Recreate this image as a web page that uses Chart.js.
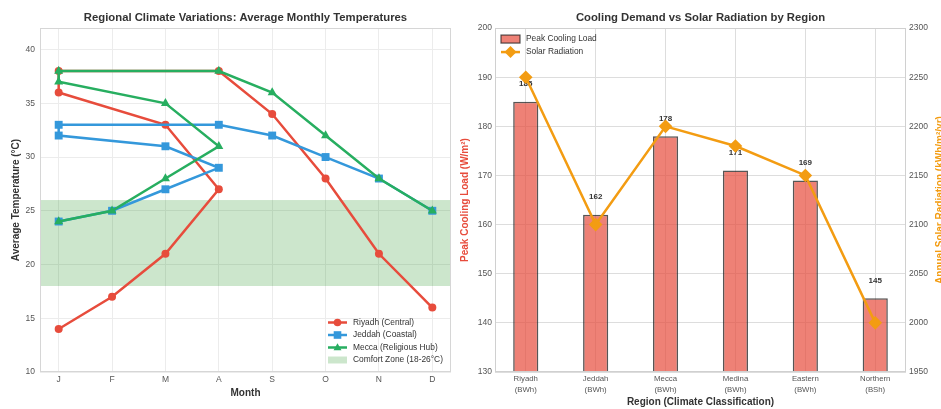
<!DOCTYPE html>
<html><head><meta charset="utf-8">
<script src="https://cdn.jsdelivr.net/npm/chart.js@4.4.0/dist/chart.umd.min.js"></script>
<style>
html,body{margin:0;padding:0;background:#fff;width:941px;height:409px;overflow:hidden;}
canvas{position:absolute;top:0;}
#c1{left:0;}
#c2{left:455px;}
</style></head><body>
<canvas id="c1" width="470" height="409"></canvas>
<canvas id="c2" width="486" height="409"></canvas>
<script>
// ---------- data ----------
const monthCats = ['J','F','M','A','S','O','N','D'];
const monthLabels = ['J','F','M','A','M','J','J','A','S','O','N','D'];
const riyadhTemps = [14,17,21,27,33,36,38,38,34,28,21,16];
const jeddahTemps = [24,25,27,29,31,32,33,33,32,30,28,25];
const meccaTemps  = [24,25,28,31,35,37,38,38,36,32,28,25];
const comfortZone = [18,26];
const tempTicks = [10,15,20,25,30,35,40];

const regionNames = ['Riyadh','Jeddah','Mecca','Medina','Eastern','Northern'];
const climateClasses = ['(BWh)','(BWh)','(BWh)','(BWh)','(BWh)','(BSh)'];
const coolingLoad = [185,162,178,171,169,145];
const solarRadiation = [2250,2100,2200,2180,2150,2000];
const loadTicks = [130,140,150,160,170,180,190,200];
const solarTicks = [1950,2000,2050,2100,2150,2200,2250,2300];

// ---------- style ----------
const FONT = "'Liberation Sans', Arial, sans-serif";
Chart.defaults.font.family = FONT;
Chart.defaults.animation = false;
const TICK = '#555555';
const DARK = '#333333';
const RED = '#e74c3c', BLUE = '#3498db', GREEN = '#27ae60', ORANGE = '#f39c12';
const BAND = 'rgba(0,128,0,0.2)';

function marker(ctx, style, x, y, r, color){
  ctx.save();
  ctx.fillStyle = color; ctx.beginPath();
  if (style === 'circle') ctx.arc(x, y, r, 0, Math.PI*2);
  else if (style === 'rect') ctx.rect(x-r, y-r, 2*r, 2*r);
  else if (style === 'triangle') { ctx.moveTo(x, y-r*1.2); ctx.lineTo(x+r*1.1, y+r*0.75); ctx.lineTo(x-r*1.1, y+r*0.75); ctx.closePath(); }
  else if (style === 'rectRot') { ctx.moveTo(x, y-r); ctx.lineTo(x+r, y); ctx.lineTo(x, y+r); ctx.lineTo(x-r, y); ctx.closePath(); }
  ctx.fill(); ctx.restore();
}
function frame(chart, color){
  const a = chart.chartArea, ctx = chart.ctx;
  ctx.save(); ctx.strokeStyle = color; ctx.lineWidth = 1;
  ctx.strokeRect(Math.round(a.left)+0.5, Math.round(a.top)+0.5, Math.round(a.right-a.left)-1, Math.round(a.bottom-a.top)-1);
  ctx.restore();
}
const toPoints = vals => vals.map((v,i) => ({x: monthCats.indexOf(monthLabels[i]), y: v}));

// ---------- left chart ----------
const leftPlugin = {
  id: 'leftExtras',
  beforeDatasetsDraw(chart){
    const {ctx, chartArea:a, scales:{y}} = chart;
    const yTop = y.getPixelForValue(comfortZone[1]), yBot = y.getPixelForValue(comfortZone[0]);
    ctx.save(); ctx.fillStyle = BAND; ctx.fillRect(a.left, yTop, a.right-a.left, yBot-yTop); ctx.restore();
  },
  afterDraw(chart){
    const {ctx, chartArea:a} = chart;
    frame(chart, '#d6d6d6');
    const x0 = a.right - 123, y0 = a.bottom - 49.5, step = 12.5;
    ctx.save();
    ctx.font = '8.4px ' + FONT; ctx.textBaseline = 'middle'; ctx.fillStyle = DARK;
    chart.data.datasets.forEach((ds, i) => {
      const yy = y0 + i*step;
      ctx.strokeStyle = ds.borderColor; ctx.lineWidth = 2.5;
      ctx.beginPath(); ctx.moveTo(x0, yy); ctx.lineTo(x0+19, yy); ctx.stroke();
      marker(ctx, ds.pointStyle, x0+9.5, yy, ds.pointStyle==='circle'?3.8:(ds.pointStyle==='rect'?3.8:3.6), ds.borderColor);
      ctx.fillStyle = DARK; ctx.fillText(ds.label, x0+25, yy);
    });
    const yy = y0 + 3*step;
    ctx.fillStyle = BAND; ctx.fillRect(x0, yy-3.5, 19, 7);
    ctx.fillStyle = DARK;
    ctx.fillText('Comfort Zone (' + comfortZone[0] + '-' + comfortZone[1] + '°C)', x0+25, yy);
    ctx.restore();
  }
};

new Chart(document.getElementById('c1'), {
  type: 'line',
  data: {
    datasets: [
      {label:'Riyadh (Central)', data: toPoints(riyadhTemps), borderColor: RED, backgroundColor: RED,
       pointStyle:'circle', pointRadius:4, pointBorderWidth:0, borderWidth:2.5, order:3},
      {label:'Jeddah (Coastal)', data: toPoints(jeddahTemps), borderColor: BLUE, backgroundColor: BLUE,
       pointStyle:'rect', pointRadius:5.6, pointBorderWidth:0, borderWidth:2.5, order:2},
      {label:'Mecca (Religious Hub)', data: toPoints(meccaTemps), borderColor: GREEN, backgroundColor: GREEN,
       pointStyle:'triangle', pointRadius:5.2, pointBorderWidth:0, borderWidth:2.5, order:1}
    ]
  },
  options: {
    responsive: false,
    layout: {padding: {left:0, right:19, top:0, bottom:0}},
    plugins: {
      legend: {display:false}, tooltip: {enabled:false},
      title: {display:true, text:'Regional Climate Variations: Average Monthly Temperatures', fullSize:false,
        color: DARK, font:{size:11.3, weight:'bold'}, padding:{top:11, bottom:3.5}}
    },
    scales: {
      x: {type:'linear', min:-0.35, max:7.35,
        afterBuildTicks: s => { s.ticks = monthCats.map((_, i) => ({value:i})); },
        afterFit: s => { s.height = 37; },
        ticks: {autoSkip:false, maxRotation:0, color:TICK, font:{size:8.5}, padding:3,
          callback: v => monthCats[v]},
        grid: {color:'#ececec', lineWidth:1, drawTicks:false},
        border: {display:false},
        title: {display:true, text:'Month', color:DARK, font:{size:10, weight:'bold'}, padding:{top:0, bottom:10}}
      },
      y: {type:'linear', min:10, max:42,
        afterBuildTicks: s => { s.ticks = tempTicks.map(v => ({value:v})); },
        afterFit: s => { s.width = 40; },
        ticks: {color:TICK, font:{size:8.5}, padding:5, callback: v => String(v)},
        grid: {color:'#ececec', lineWidth:1, drawTicks:false},
        border: {display:false},
        title: {display:true, text:'Average Temperature (°C)', color:DARK, font:{size:10, weight:'bold'}, padding:{top:10, bottom:0}}
      }
    }
  },
  plugins: [leftPlugin]
});

// ---------- right chart ----------
const rightPlugin = {
  id: 'rightExtras',
  afterDatasetDraw(chart, args){
    if (args.index !== 0) return;
    const {ctx} = chart, meta = args.meta;
    ctx.save();
    ctx.font = 'bold 8px ' + FONT; ctx.fillStyle = DARK; ctx.textAlign = 'center'; ctx.textBaseline = 'middle';
    meta.data.forEach((bar, i) => {
      ctx.fillText(String(coolingLoad[i]), bar.x, bar.y - 17.5);
    });
    ctx.restore();
  },
  afterDraw(chart){
    const {ctx, chartArea:a} = chart;
    frame(chart, '#d0d0d0');
    // legend
    const x0 = a.left + 6, y1 = a.top + 11, y2 = a.top + 24;
    ctx.save();
    ctx.fillStyle = 'rgba(231,76,60,0.7)'; ctx.fillRect(x0, y1-4, 19, 8);
    ctx.strokeStyle = 'rgba(30,30,30,0.75)'; ctx.lineWidth = 1.2; ctx.strokeRect(x0, y1-4, 19, 8);
    ctx.strokeStyle = ORANGE; ctx.lineWidth = 2.5;
    ctx.beginPath(); ctx.moveTo(x0, y2); ctx.lineTo(x0+19, y2); ctx.stroke();
    marker(ctx, 'rectRot', x0+9.5, y2, 6, ORANGE);
    ctx.font = '8.4px ' + FONT; ctx.fillStyle = DARK; ctx.textBaseline = 'middle';
    ctx.fillText(chart.data.datasets[0].label, x0+25, y1);
    ctx.fillText(chart.data.datasets[1].label, x0+25, y2);
    // right axis title (reads bottom to top)
    ctx.translate(a.right + 34, (a.top + a.bottom)/2);
    ctx.rotate(-Math.PI/2);
    ctx.font = 'bold 10px ' + FONT; ctx.fillStyle = ORANGE; ctx.textAlign = 'center'; ctx.textBaseline = 'middle';
    ctx.fillText('Annual Solar Radiation (kWh/m²/yr)', 0, 0);
    ctx.restore();
  }
};

new Chart(document.getElementById('c2'), {
  type: 'bar',
  data: {
    datasets: [
      {type:'bar', label:'Peak Cooling Load', data: coolingLoad.map((v,i) => ({x:i, y:v})), yAxisID:'y',
       backgroundColor:'rgba(231,76,60,0.7)', borderColor:'rgba(30,30,30,0.75)', borderWidth:1.5, borderSkipped:false,
       categoryPercentage:1, barPercentage:0.36, order:2},
      {type:'line', label:'Solar Radiation', data: solarRadiation.map((v,i) => ({x:i, y:v})), yAxisID:'y1',
       borderColor:ORANGE, backgroundColor:ORANGE, borderWidth:2.5, pointStyle:'rectRot', pointRadius:6.8,
       pointBorderWidth:0, order:1}
    ]
  },
  options: {
    responsive: false,
    layout: {padding: 0},
    plugins: {
      legend: {display:false}, tooltip: {enabled:false},
      title: {display:true, text:'Cooling Demand vs Solar Radiation by Region', fullSize:false,
        color: DARK, font:{size:11.3, weight:'bold'}, padding:{top:11, bottom:3.5}}
    },
    scales: {
      x: {type:'linear', min:-0.44, max:5.44, offset:false,
        afterBuildTicks: s => { s.ticks = regionNames.map((_, i) => ({value:i})); },
        afterFit: s => { s.height = 37; },
        ticks: {autoSkip:false, maxRotation:0, color:TICK, font:{size:7.8, lineHeight:1.41}, padding:1,
          callback: v => [regionNames[v], climateClasses[v]]},
        grid: {color:'#dddddd', lineWidth:1, drawTicks:false, offset:false},
        border: {display:false},
        title: {display:true, text:'Region (Climate Classification)', color:DARK, font:{size:10, weight:'bold'}, padding:{top:0, bottom:1}}
      },
      y: {type:'linear', position:'left', min:130, max:200,
        afterBuildTicks: s => { s.ticks = loadTicks.map(v => ({value:v})); },
        afterFit: s => { s.width = 40; },
        ticks: {color:TICK, font:{size:8.5}, padding:3, callback: v => String(v)},
        grid: {color:'#dddddd', lineWidth:1, drawTicks:false},
        border: {display:false},
        title: {display:true, text:'Peak Cooling Load (W/m²)', color:RED, font:{size:10, weight:'bold'}, padding:{top:4.5, bottom:0}}
      },
      y1: {type:'linear', position:'right', min:1950, max:2300,
        afterBuildTicks: s => { s.ticks = solarTicks.map(v => ({value:v})); },
        afterFit: s => { s.width = 35; },
        ticks: {color:TICK, font:{size:8.5}, padding:3, callback: v => String(v)},
        grid: {display:false, drawTicks:false},
        border: {display:false}
      }
    }
  },
  plugins: [rightPlugin]
});
</script>
</body></html>
